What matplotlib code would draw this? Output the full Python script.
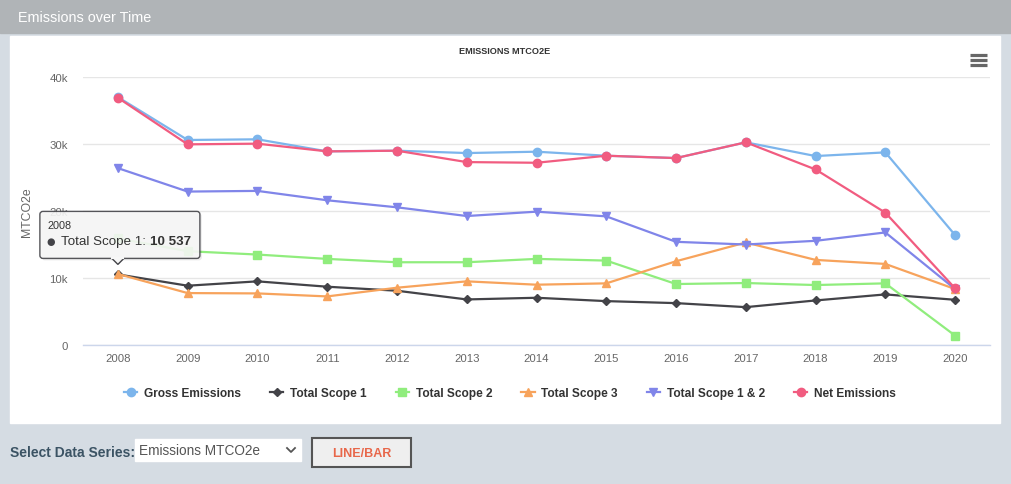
import matplotlib
matplotlib.use("Agg")
import matplotlib.pyplot as plt
from matplotlib.patches import Rectangle, FancyBboxPatch, Polygon

plt.rcParams['font.family'] = ['Liberation Sans', 'DejaVu Sans']

# data (MTCO2e)
years = ['2008', '2009', '2010', '2011', '2012', '2013', '2014',
         '2015', '2016', '2017', '2018', '2019', '2020']
gross = [37000, 30600, 30700, 28900, 29000, 28650, 28850, 28250, 27900, 30250, 28200, 28750, 16400]
scope1 = [10537, 8850, 9500, 8700, 8100, 6800, 7050, 6550, 6250, 5650, 6650, 7550, 6750]
scope2 = [15900, 14000, 13500, 12850, 12350, 12350, 12850, 12600, 9100, 9250, 8950, 9200, 1400]
scope3 = [10600, 7750, 7700, 7250, 8550, 9500, 9000, 9200, 12500, 15300, 12700, 12100, 8350]
scope12 = [26400, 22900, 23000, 21600, 20550, 19250, 19900, 19200, 15400, 15000, 15550, 16800, 8350]
net = [36900, 29950, 30050, 28900, 29000, 27300, 27200, 28250, 27900, 30250, 26200, 19750, 8450]

series_names = ['Gross Emissions', 'Total Scope 1', 'Total Scope 2',
                'Total Scope 3', 'Total Scope 1 & 2', 'Net Emissions']
series_values = [gross, scope1, scope2, scope3, scope12, net]
colors = ['#7cb5ec', '#434348', '#90ed7d', '#f7a35c', '#8085e9', '#f15c80']
markers = ['o', 'D', 's', '^', 'v', 'o']
msizes = [6, 4.2, 5.6, 6, 6, 6]

yticks = [0, 10000, 20000, 30000, 40000]
ytick_labels = ['0', '10k', '20k', '30k', '40k']

W, H = 1011, 485
fig = plt.figure(figsize=(W / 100, H / 100), dpi=100)

# page background, header bar and white chart panel (pixel coords)
bg = fig.add_axes([0, 0, 1, 1], zorder=0)
bg.set_xlim(0, W)
bg.set_ylim(H, 0)
bg.axis('off')
bg.add_patch(Rectangle((0, 0), W, H, color='#d5dce3'))
bg.add_patch(Rectangle((0, 0), W, 34, color='#b0b4b7'))
bg.add_patch(Rectangle((10, 37), 990, 387, color='white'))
bg.text(18, 18, 'Emissions over Time', color='white', fontsize=10.4, va='center', ha='left')
bg.text(505, 51, 'EMISSIONS MTCO2E', fontsize=6.6, fontweight='bold', color='#333333',
        va='center', ha='center')

# hamburger icon
for yy in (56, 61, 66):
    bg.plot([970, 987], [yy, yy], color='#666666', lw=2.3, solid_capstyle='butt')

# bottom controls
bg.text(10, 453.5, 'Select Data Series:', color='#3b5364', fontsize=10, fontweight='bold',
        va='center', ha='left')
bg.add_patch(Rectangle((135, 440), 166, 22, color='white'))
bg.text(139, 451.5, 'Emissions MTCO2e', color='#555555', fontsize=9.8, va='center', ha='left')
bg.plot([287, 291, 295], [449, 453, 449], color='#555555', lw=1.3)
bg.add_patch(Rectangle((312, 439), 99, 29, facecolor='#efefef', edgecolor='#555555', lw=1.5))
bg.text(361.5, 454, 'LINE/BAR', color='#e8674a', fontsize=9, fontweight='bold',
        va='center', ha='center')

# main chart
ax = fig.add_axes([83 / W, (H - 346) / H, (990 - 83) / W, (346 - 78) / H], zorder=2)
ax.patch.set_alpha(0)
x = list(range(len(years)))
for name, vals, c, m, ms in zip(series_names, series_values, colors, markers, msizes):
    ax.plot(x, vals, color=c, lw=1.6, marker=m, markersize=ms, label=name,
            markeredgecolor=c, solid_joinstyle='round')

ax.set_xlim(-0.5, len(years) - 0.5)
ax.set_ylim(0, 40000)
ax.set_xticks(x)
ax.set_xticklabels(years)
ax.set_yticks(yticks)
ax.set_yticklabels(ytick_labels)
ax.tick_params(axis='both', length=0, colors='#666666', labelsize=8.2)
ax.tick_params(axis='x', pad=6)
ax.tick_params(axis='y', pad=11)
ax.grid(axis='y', color='#e6e6e6', lw=1)
ax.set_axisbelow(True)
for s in ['top', 'right', 'left']:
    ax.spines[s].set_visible(False)
ax.spines['bottom'].set_color('#ccd6eb')
ax.spines['bottom'].set_linewidth(1)
ax.set_ylabel('MTCO2e', color='#666666', fontsize=8.8, labelpad=12)

leg = fig.legend(loc='center', bbox_to_anchor=(510 / W, (H - 394) / H), ncol=6,
                 frameon=False, prop={'weight': 'bold', 'size': 8.6},
                 handlelength=1.1, handletextpad=0.55, columnspacing=2.45)
for t in leg.get_texts():
    t.set_color('#333333')

# tooltip over the 2008 Total Scope 1 point
fg = fig.add_axes([0, 0, 1, 1], zorder=5)
fg.set_xlim(0, W)
fg.set_ylim(H, 0)
fg.axis('off')
px, py = ax.transData.transform((0, scope1[0]))
py = H - py
tip_y = py - 10
bx0, bx1, by0, by1 = px - 78, px + 82, tip_y - 53, tip_y - 6
fg.add_patch(FancyBboxPatch((bx0 + 2, by0 + 2), bx1 - bx0, by1 - by0,
                            boxstyle='round,pad=0,rounding_size=3',
                            facecolor='black', edgecolor='none', alpha=0.08))
fg.add_patch(FancyBboxPatch((bx0, by0), bx1 - bx0, by1 - by0,
                            boxstyle='round,pad=0,rounding_size=3',
                            facecolor='#f7f7f7', edgecolor='#434348', lw=1, alpha=0.9))
fg.add_patch(Polygon([(px - 6, by1), (px, tip_y), (px + 6, by1)], closed=False,
                     facecolor='#f7f7f7', edgecolor='#434348', lw=1))
fg.plot([px - 5.5, px + 5.5], [by1, by1], color='#f7f7f7', lw=1.5)
fg.text(bx0 + 8, by0 + 14, years[0], fontsize=7.8, color='#333333', va='center', ha='left')
fg.text(bx0 + 7, by0 + 30, '\u25cf', fontsize=7, color=colors[1], va='center', ha='left',
        family=['DejaVu Sans'])
t1 = fg.text(bx0 + 21, by0 + 30, 'Total Scope 1: ', fontsize=9.6, color='#333333',
             va='center', ha='left')
fig.canvas.draw()
bb = t1.get_window_extent()
fg.text(bx0 + 21 + bb.width, by0 + 30, '10 537', fontsize=9.6, fontweight='bold',
        color='#333333', va='center', ha='left')

fig.savefig('out.png', dpi=100)
